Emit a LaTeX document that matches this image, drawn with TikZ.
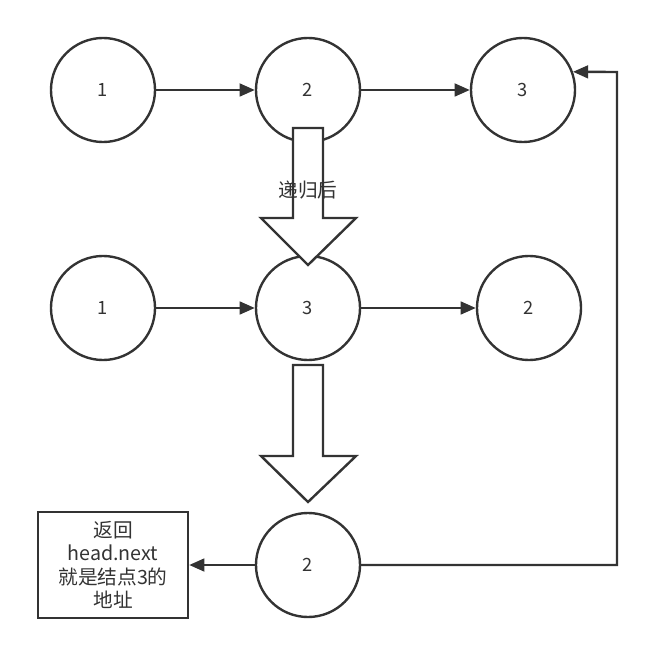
\documentclass[tikz,border=0pt]{standalone}
\usepackage{fontspec}
\setmainfont{Noto Sans CJK SC}
\usepackage{xcolor}
\usetikzlibrary{arrows.meta, positioning, calc}
\definecolor{cline}{RGB}{51,51,51}

\begin{document}
\begin{tikzpicture}[
    x=0.025cm, y=-0.025cm,
    >={Triangle[length=3.8mm, width=3.2mm]},
    link/.style={->, line width=1.7pt, draw=cline},
    listnode/.style={draw=cline, circle, line width=1.7pt, fill=white, minimum size=2.6cm, inner sep=0pt, font=\fontsize{13}{15}\selectfont, text=cline},
    notebox/.style={draw=cline, line width=1.7pt, minimum width=3.75cm, minimum height=2.65cm, align=center, font=\fontsize{14}{16.5}\selectfont, text=cline},
    bigarrow/.style={draw=cline, line width=1.7pt, fill=white, line join=miter},
]
    \useasboundingbox (0,0) rectangle (655,655);

    % before recursion
    \node[listnode] (a1) at (103,90) {1};
    \node[listnode] (a2) at (308,90) {2};
    \node[listnode] (a3) at (523,90) {3};
    \draw[link] (a1) -- (a2);
    \draw[link] (a2) -- (a3);

    % after recursion
    \node[listnode] (b1) at (103,308) {1};
    \node[listnode] (b3) at (308,308) {3};
    \node[listnode] (b2) at (529,308) {2};
    \draw[link] (b1) -- (b3);
    \draw[link] (b3) -- (b2);

    % return
    \node[listnode] (c2) at (308,565) {2};
    \node[notebox] (ret) at (113,565) {返回\\head.next\\就是结点3的\\地址};
    \draw[link] (c2) -- (ret);
    \coordinate (turn) at (617,72);
    \draw[link] (c2.east) -| (turn) -- (a3.20);

    % big arrows
    \draw[bigarrow] (293,128) -- (323,128) -- (323,218) -- (356,218)
        -- (308,265) -- (261,218) -- (293,218) -- cycle;
    \node[font=\fontsize{14}{16}\selectfont, text=cline] (step) at (308,190) {递归后};
    \draw[bigarrow] (293,365) -- (323,365) -- (323,456) -- (356,456)
        -- (308,502) -- (261,456) -- (293,456) -- cycle;
\end{tikzpicture}
\end{document}
